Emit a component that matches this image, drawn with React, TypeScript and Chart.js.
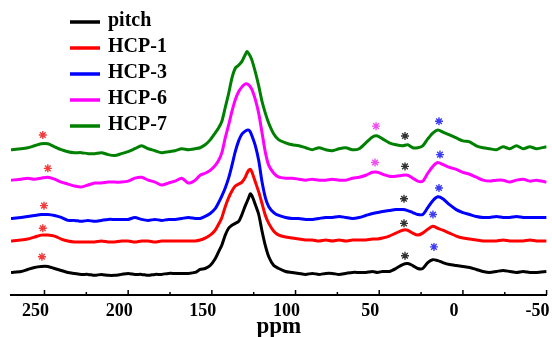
import React, { useEffect, useRef } from 'react';
import { Chart, registerables } from 'chart.js';

Chart.register(...registerables);

// chemical shift grid (ppm)
const PPM = [270,264,260,256,252,248,244,240,236,232,228,224,220,216,212,208,204,200,196,192,188,184,180,176,172,168,164,160,
  157,154,151,148,146,144,142,140,138,136,134,132,130,129,128,127,126,124,122,120,118,116,113,110,106,102,98,94,90,86,82,78,74,70,66,62,58,54,51,48,44,40,36,33,30,27,24,21,18,15,12,8,4,0,-4,-8,-12,-16,-20,-24,-28,-32,-36,-40,-44,-50];

// stacked intensities (arbitrary units, offsets included)
const PITCH = [23,24,26,28,29,29,27,25,23,22,21,21,20,21,20,20,21,22,21,21,20,21,21,22,22,22,22,23,
  26,27,30,37,44,51,61,68,71,73,75,82,91,95,99,103,101,92,82,65,50,39,30,27,24,23,22,21,22,21,22,22,21,22,23,23,23,24,23,24,24,27,31,32,30,27,27,33,36,35,33,31,30,29,28,26,24,23,24,25,24,23,24,23,23,24];
const HCP1 = [55,56,57,59,61,61,60,57,55,54,54,54,54,55,54,54,55,55,54,55,55,54,55,55,55,55,55,55,
  56,58,61,66,72,79,90,99,106,111,113,115,120,124,127,128,125,115,105,93,81,73,65,61,59,58,57,56,56,55,56,55,56,55,56,56,56,57,57,58,60,63,66,66,63,61,63,67,70,68,66,63,60,58,57,56,55,55,55,56,55,55,55,56,55,55];
const HCP3 = [78,79,80,81,82,82,81,79,76,76,75,76,75,76,77,77,77,77,79,77,76,77,76,77,77,78,79,78,
  78,80,83,88,94,101,109,119,132,146,157,164,167,168,168,166,162,152,137,115,99,90,84,81,79,78,78,77,77,78,79,79,80,79,78,79,81,83,84,85,86,87,87,86,84,82,82,89,96,100,98,92,87,84,82,80,79,79,80,79,79,80,79,79,79,79];
const HCP6 = [117,118,119,118,119,120,118,115,113,111,110,112,114,114,115,115,115,116,119,120,117,115,112,114,116,119,114,117,
  122,124,127,132,137,145,160,173,187,199,207,212,215,215,214,212,209,199,185,165,145,132,124,120,119,119,118,117,118,117,117,118,117,117,119,120,122,125,125,123,121,121,122,122,119,116,116,124,131,135,133,130,128,125,123,120,117,116,117,117,115,117,118,116,117,115];
const HCP7 = [148,149,150,152,154,154,151,148,146,145,145,144,144,145,143,142,144,146,149,152,149,147,145,146,147,149,148,149,
  150,153,158,165,170,177,191,205,221,231,234,238,245,248,246,243,239,227,213,197,185,175,164,158,155,153,152,150,148,150,148,147,149,150,148,149,155,161,162,159,155,153,152,153,150,150,152,159,165,168,166,163,160,157,156,152,150,149,148,151,149,152,149,151,149,151];

const SERIES_LABELS = ['pitch', 'HCP-1', 'HCP-3', 'HCP-6', 'HCP-7'];
const SERIES_COLORS = ['#000000', '#ff0000', '#0000ff', '#ff00ff', '#008000'];

// asterisk markers (ppm, intensity)
const RED_STAR_PPM = [251.5, 251, 250.3, 248, 251];
const RED_STAR_Y = [39, 68, 91, 129, 163];
const BLACK_STAR_PPM = [34.6, 35.2, 35.2, 34.6, 34.6];
const BLACK_STAR_Y = [40, 73, 98, 131, 162];
const BLUE_STAR_PPM = [17.3, 17.9, 14.3, 13.7, 14.3];
const BLUE_STAR_Y = [49, 82, 109, 143, 177];
const MAGENTA_STAR_PPM = [52.5, 51.9];
const MAGENTA_STAR_Y = [135, 172];

const X_TICKS = [250, 200, 150, 100, 50, 0, -50];
const X_MINOR = [225, 175, 125, 75, 25, -25];

const SERIF = "'Liberation Serif', 'Times New Roman', serif";

const pts = (xs: number[], ys: number[]) => xs.map((x, i) => ({ x, y: ys[i] }));

const tickPlugin = {
  id: 'inwardTicks',
  afterDraw(chart: any) {
    const ctx = chart.ctx;
    const sx = chart.scales.x;
    const y0 = chart.chartArea.bottom;
    ctx.save();
    ctx.strokeStyle = '#000';
    ctx.lineWidth = 1.5;
    X_TICKS.forEach((v) => {
      const px = sx.getPixelForValue(v);
      ctx.beginPath(); ctx.moveTo(px, y0); ctx.lineTo(px, y0 - 5); ctx.stroke();
    });
    X_MINOR.forEach((v) => {
      const px = sx.getPixelForValue(v);
      ctx.beginPath(); ctx.moveTo(px, y0); ctx.lineTo(px, y0 - 3); ctx.stroke();
    });
    ctx.restore();
  },
};

const legendPlugin = {
  id: 'customLegend',
  afterDraw(chart: any) {
    const ctx = chart.ctx;
    ctx.save();
    SERIES_LABELS.forEach((label, i) => {
      const y = 22 + i * 26;
      ctx.strokeStyle = SERIES_COLORS[i];
      ctx.lineWidth = 3.5;
      ctx.beginPath(); ctx.moveTo(70, y); ctx.lineTo(100, y); ctx.stroke();
      ctx.fillStyle = '#000';
      ctx.font = `bold 20px ${SERIF}`;
      ctx.textBaseline = 'middle';
      ctx.textAlign = 'left';
      ctx.fillText(label, 108, y - 1);
    });
    ctx.restore();
  },
};

export default function App() {
  const ref = useRef<HTMLCanvasElement>(null);
  useEffect(() => {
    if (!ref.current) return;
    const seriesData = [PITCH, HCP1, HCP3, HCP6, HCP7];
    const lineSets = SERIES_LABELS.map((label, i) => ({
      type: 'line' as const,
      label,
      data: pts(PPM, seriesData[i]),
      borderColor: SERIES_COLORS[i],
      borderWidth: 3,
      pointRadius: 0,
      tension: 0.25,
      fill: false,
    }));
    const star = (label: string, xs: number[], ys: number[], color: string) => ({
      type: 'scatter' as const,
      label,
      data: pts(xs, ys),
      showLine: false,
      pointStyle: 'star',
      pointRadius: 4,
      borderWidth: 1.4,
      borderColor: color,
      backgroundColor: color,
    });
    const chart = new Chart(ref.current, {
      type: 'line',
      data: {
        datasets: [
          ...lineSets,
          star('red*', RED_STAR_PPM, RED_STAR_Y, '#f23c3c'),
          star('black*', BLACK_STAR_PPM, BLACK_STAR_Y, '#333333'),
          star('blue*', BLUE_STAR_PPM, BLUE_STAR_Y, '#3c3cf2'),
          star('magenta*', MAGENTA_STAR_PPM, MAGENTA_STAR_Y, '#f050f0'),
        ] as any,
      },
      options: {
        animation: false,
        responsive: false,
        maintainAspectRatio: false,
        layout: { padding: { left: 11, right: 4, top: 0, bottom: 0 } },
        plugins: { legend: { display: false }, tooltip: { enabled: false } },
        scales: {
          x: {
            type: 'linear',
            reverse: true,
            min: -50,
            max: 270,
            afterBuildTicks: (s: any) => { s.ticks = X_TICKS.map((v) => ({ value: v })); },
            afterFit: (s: any) => { s.height = 42; s.paddingLeft = 0; s.paddingRight = 0; },
            grid: { display: false, drawTicks: false },
            border: { display: true, color: '#000', width: 2 },
            ticks: { color: '#000', padding: 6, labelOffset: -9, font: { family: SERIF, size: 18, weight: 'bold' } },
            title: { display: true, text: 'ppm', color: '#000', padding: { top: 0, bottom: -4 }, font: { family: SERIF, size: 23, weight: 'bold' } },
          },
          y: { display: false, min: 0, max: 295 },
        },
      } as any,
      plugins: [tickPlugin, legendPlugin],
    });
    return () => chart.destroy();
  }, []);
  return (
    <div style={{ position: 'absolute', left: 0, top: 0, width: 552, height: 337, background: '#fff' }}>
      <canvas ref={ref} width={552} height={337} style={{ display: 'block' }} />
    </div>
  );
}
